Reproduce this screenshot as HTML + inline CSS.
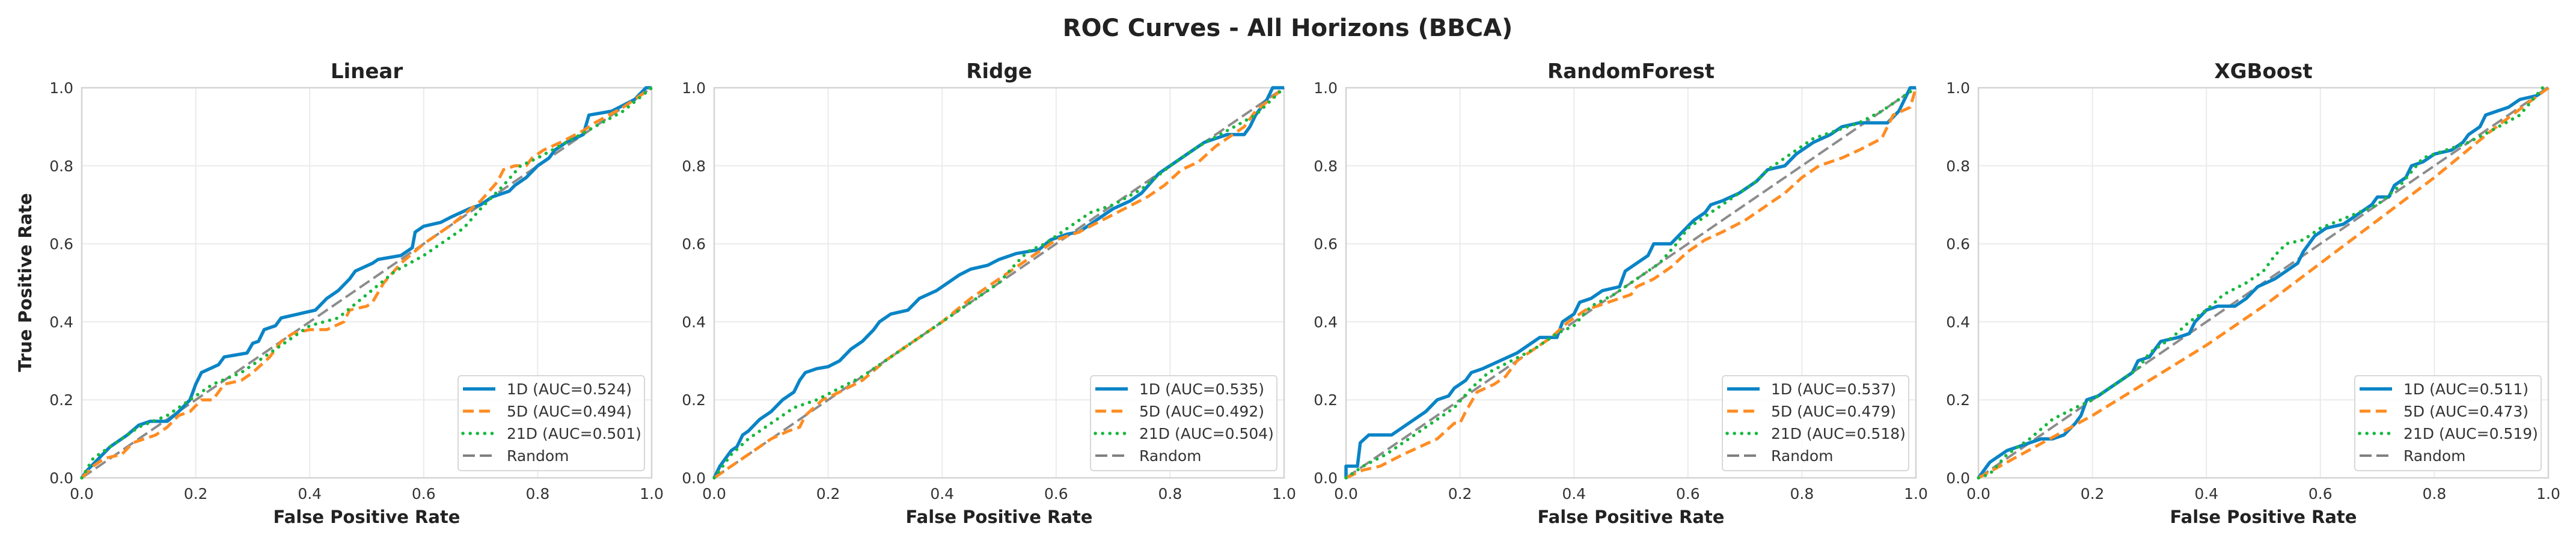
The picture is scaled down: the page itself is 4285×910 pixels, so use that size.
<!DOCTYPE html>
<html><head><meta charset="utf-8">
<style>
html,body{margin:0;padding:0;background:#fff;}
svg text{font-family:"DejaVu Sans","Liberation Sans",sans-serif;}
</style></head>
<body>
<svg id="fig" xmlns="http://www.w3.org/2000/svg" width="4285" height="905" viewBox="0 0 4285 905">
<rect width="4285" height="905" fill="#fff"/>
<text x="2142" y="60" text-anchor="middle" font-size="40" font-weight="bold" fill="#222">ROC Curves - All Horizons (BBCA)</text>
</svg>
<script>
// ---- data ----
const models = ["Linear","Ridge","RandomForest","XGBoost"];
const horizons = ["1D","5D","21D"];
const aucLinear = [0.524,0.494,0.501];
const aucRidge = [0.535,0.492,0.504];
const aucRF = [0.537,0.479,0.518];
const aucXGB = [0.511,0.473,0.519];
const tickValues = [0,0.2,0.4,0.6,0.8,1.0];
const tickLabels = ["0.0","0.2","0.4","0.6","0.8","1.0"];

const linear1D_fpr=[0,0.01,0.05,0.08,0.1,0.12,0.15,0.17,0.19,0.2,0.21,0.24,0.25,0.29,0.3,0.31,0.32,0.34,0.35,0.38,0.41,0.43,0.45,0.47,0.48,0.51,0.52,0.56,0.58,0.585,0.6,0.63,0.65,0.68,0.7,0.72,0.75,0.76,0.78,0.8,0.82,0.83,0.85,0.88,0.89,0.91,0.93,0.97,0.99,1];
const linear1D_tpr=[0,0.02,0.08,0.11,0.135,0.145,0.145,0.17,0.2,0.24,0.27,0.29,0.31,0.32,0.345,0.35,0.38,0.39,0.41,0.42,0.43,0.46,0.48,0.51,0.53,0.55,0.56,0.57,0.59,0.63,0.645,0.655,0.67,0.69,0.7,0.72,0.735,0.75,0.77,0.8,0.82,0.84,0.86,0.88,0.93,0.935,0.94,0.97,1,1];
const linear5D_fpr=[0,0.02,0.04,0.07,0.09,0.11,0.13,0.15,0.17,0.19,0.21,0.23,0.25,0.28,0.3,0.33,0.35,0.37,0.4,0.43,0.46,0.47,0.5,0.51,0.53,0.56,0.6,0.65,0.7,0.73,0.74,0.76,0.78,0.79,0.81,0.84,0.88,0.9,0.95,1];
const linear5D_tpr=[0,0.03,0.05,0.06,0.09,0.1,0.11,0.13,0.16,0.17,0.2,0.2,0.24,0.25,0.27,0.31,0.35,0.37,0.38,0.38,0.4,0.43,0.44,0.45,0.5,0.55,0.6,0.65,0.71,0.76,0.79,0.8,0.8,0.82,0.84,0.86,0.89,0.91,0.95,1];
const linear21D_fpr=[0,0.02,0.06,0.1,0.15,0.19,0.23,0.28,0.32,0.36,0.4,0.45,0.5,0.55,0.6,0.64,0.67,0.7,0.74,0.77,0.8,0.85,0.9,0.95,1];
const linear21D_tpr=[0,0.05,0.09,0.13,0.16,0.2,0.24,0.27,0.31,0.35,0.39,0.41,0.47,0.53,0.57,0.61,0.64,0.69,0.75,0.8,0.82,0.86,0.9,0.94,1];

const ridge1D_fpr=[0,0.01,0.02,0.03,0.04,0.05,0.06,0.08,0.1,0.12,0.14,0.15,0.16,0.18,0.2,0.22,0.24,0.26,0.28,0.29,0.31,0.34,0.36,0.39,0.41,0.43,0.45,0.48,0.5,0.53,0.57,0.59,0.62,0.64,0.66,0.68,0.7,0.73,0.75,0.78,0.8,0.83,0.86,0.88,0.9,0.93,0.94,0.95,0.97,0.98,1];
const ridge1D_tpr=[0,0.03,0.05,0.07,0.08,0.11,0.12,0.15,0.17,0.2,0.22,0.25,0.27,0.28,0.285,0.3,0.33,0.35,0.38,0.4,0.42,0.43,0.46,0.48,0.5,0.52,0.535,0.545,0.56,0.575,0.585,0.61,0.625,0.63,0.65,0.67,0.69,0.71,0.73,0.78,0.8,0.83,0.86,0.87,0.88,0.88,0.9,0.93,0.97,1,1];
const ridge5D_fpr=[0,0.03,0.07,0.1,0.13,0.15,0.16,0.19,0.22,0.26,0.3,0.33,0.37,0.4,0.45,0.5,0.54,0.57,0.6,0.64,0.68,0.72,0.76,0.79,0.82,0.85,0.88,0.91,0.93,0.95,1];
const ridge5D_tpr=[0,0.03,0.07,0.1,0.12,0.13,0.16,0.2,0.22,0.25,0.3,0.33,0.37,0.4,0.46,0.51,0.55,0.58,0.61,0.63,0.66,0.69,0.72,0.75,0.79,0.81,0.85,0.88,0.9,0.94,1];
const ridge21D_fpr=[0,0.03,0.06,0.1,0.14,0.18,0.22,0.26,0.3,0.34,0.38,0.42,0.47,0.5,0.53,0.55,0.58,0.62,0.66,0.7,0.75,0.8,0.85,0.9,0.95,1];
const ridge21D_tpr=[0,0.06,0.1,0.14,0.18,0.2,0.23,0.26,0.3,0.34,0.38,0.42,0.47,0.5,0.55,0.58,0.6,0.64,0.68,0.7,0.74,0.8,0.85,0.89,0.93,1];

const rf1D_fpr=[0,0,0.02,0.025,0.04,0.08,0.09,0.1,0.12,0.14,0.16,0.18,0.19,0.21,0.22,0.24,0.27,0.3,0.32,0.34,0.37,0.38,0.4,0.41,0.43,0.45,0.48,0.49,0.51,0.53,0.54,0.57,0.59,0.61,0.63,0.64,0.66,0.69,0.72,0.74,0.77,0.79,0.82,0.85,0.87,0.9,0.95,0.97,0.99,1];
const rf1D_tpr=[0,0.03,0.03,0.09,0.11,0.11,0.12,0.13,0.15,0.17,0.2,0.21,0.23,0.25,0.27,0.28,0.3,0.32,0.34,0.36,0.36,0.4,0.42,0.45,0.46,0.48,0.49,0.53,0.55,0.57,0.6,0.6,0.63,0.66,0.68,0.7,0.71,0.73,0.76,0.79,0.8,0.83,0.86,0.88,0.9,0.91,0.91,0.94,1,1];
const rf5D_fpr=[0,0.03,0.06,0.1,0.13,0.16,0.19,0.2,0.21,0.23,0.26,0.28,0.3,0.33,0.36,0.39,0.42,0.46,0.5,0.51,0.54,0.57,0.6,0.63,0.66,0.7,0.72,0.74,0.77,0.8,0.83,0.87,0.9,0.94,0.96,0.99,1];
const rf5D_tpr=[0,0.02,0.03,0.06,0.08,0.1,0.14,0.14,0.17,0.22,0.24,0.26,0.3,0.33,0.36,0.4,0.43,0.45,0.47,0.49,0.51,0.54,0.58,0.61,0.63,0.66,0.68,0.7,0.73,0.77,0.8,0.82,0.84,0.87,0.93,0.95,1];
const rf21D_fpr=[0,0.03,0.07,0.11,0.15,0.19,0.22,0.25,0.29,0.33,0.37,0.4,0.43,0.47,0.52,0.55,0.58,0.6,0.63,0.67,0.72,0.74,0.78,0.82,0.86,0.9,0.94,0.97,1];
const rf21D_tpr=[0,0.03,0.06,0.1,0.14,0.18,0.23,0.27,0.3,0.33,0.37,0.39,0.44,0.47,0.52,0.55,0.6,0.64,0.67,0.71,0.76,0.79,0.83,0.87,0.89,0.91,0.94,0.97,1];

const xgb1D_fpr=[0,0.01,0.02,0.04,0.05,0.07,0.09,0.11,0.13,0.15,0.17,0.18,0.19,0.21,0.23,0.25,0.27,0.28,0.3,0.31,0.32,0.35,0.37,0.38,0.4,0.42,0.45,0.47,0.49,0.52,0.54,0.56,0.57,0.59,0.61,0.64,0.66,0.69,0.7,0.72,0.73,0.75,0.76,0.78,0.8,0.83,0.85,0.86,0.88,0.89,0.91,0.93,0.95,0.98,1];
const xgb1D_tpr=[0,0.02,0.04,0.06,0.07,0.08,0.09,0.1,0.1,0.11,0.14,0.16,0.2,0.21,0.23,0.25,0.27,0.3,0.31,0.33,0.35,0.36,0.37,0.4,0.43,0.44,0.44,0.46,0.49,0.51,0.53,0.55,0.58,0.62,0.64,0.65,0.67,0.7,0.72,0.72,0.75,0.77,0.8,0.81,0.83,0.84,0.86,0.88,0.9,0.93,0.94,0.95,0.97,0.98,1];
const xgb5D_fpr=[0,0.1,0.2,0.3,0.4,0.5,0.6,0.7,0.8,0.9,1];
const xgb5D_tpr=[0,0.08,0.16,0.25,0.34,0.44,0.55,0.66,0.77,0.89,1];
const xgb21D_fpr=[0,0.02,0.05,0.09,0.13,0.17,0.2,0.25,0.28,0.3,0.34,0.37,0.4,0.43,0.47,0.5,0.52,0.54,0.57,0.6,0.65,0.7,0.74,0.78,0.82,0.86,0.9,0.95,0.99,1];
const xgb21D_tpr=[0,0.01,0.06,0.1,0.15,0.18,0.2,0.25,0.28,0.32,0.36,0.4,0.43,0.47,0.5,0.53,0.57,0.6,0.61,0.64,0.67,0.7,0.75,0.82,0.84,0.86,0.89,0.93,1,1];

const randomLine = [0,1];

// ---- drawing ----
const NS="http://www.w3.org/2000/svg";
const svg=document.getElementById('fig');
const axLefts=[136,1188,2239,3291];
const AXW=948, AXT=146, AXB=795;
const colors={"1D":"#0a84c6","5D":"#ff8c22","21D":"#17b83e"};
const panelCurves=[
 [[linear1D_fpr,linear1D_tpr],[linear5D_fpr,linear5D_tpr],[linear21D_fpr,linear21D_tpr]],
 [[ridge1D_fpr,ridge1D_tpr],[ridge5D_fpr,ridge5D_tpr],[ridge21D_fpr,ridge21D_tpr]],
 [[rf1D_fpr,rf1D_tpr],[rf5D_fpr,rf5D_tpr],[rf21D_fpr,rf21D_tpr]],
 [[xgb1D_fpr,xgb1D_tpr],[xgb5D_fpr,xgb5D_tpr],[xgb21D_fpr,xgb21D_tpr]]
];
const panelAucs=[aucLinear,aucRidge,aucRF,aucXGB];
function mk(tag,attrs,parent){const e=document.createElementNS(NS,tag);for(const k in attrs)e.setAttribute(k,attrs[k]);(parent||svg).appendChild(e);return e;}
const styles=[
 {w:5.5,dash:null,cap:"butt"},
 {w:5,dash:"18 9",cap:"butt"},
 {w:5.5,dash:"0.1 12",cap:"round"}
];
models.forEach((m,pi)=>{
  const L=axLefts[pi];
  const sx=v=>L+v*AXW;
  const sy=v=>AXB-v*(AXB-AXT);
  const g=mk('g',{});
  
  
  const t=mk('text',{x:L+AXW/2,y:130,'text-anchor':'middle','font-size':34,'font-weight':'bold',fill:'#222'},g);
  t.textContent=m;
  
  
  tickValues.forEach((v,i)=>{
    const gx=mk('line',{x1:sx(v),x2:sx(v),y1:AXT,y2:AXB,stroke:'#ebebeb','stroke-width':2},g);
    
    
    const gy=mk('line',{x1:L,x2:L+AXW,y1:sy(v),y2:sy(v),stroke:'#ebebeb','stroke-width':2},g);
    
    
    const xl=mk('text',{x:sx(v),y:AXB+35,'text-anchor':'middle','font-size':25,fill:'#333'},g);
    xl.textContent=tickLabels[i];
    
    
    const yl=mk('text',{x:L-14,y:sy(v)+9,'text-anchor':'end','font-size':25,fill:'#333'},g);
    yl.textContent=tickLabels[i];
    
    
  });
  const fr=mk('rect',{x:L,y:AXT,width:AXW,height:AXB-AXT,fill:'none',stroke:'#d4d4d4','stroke-width':2.5},g);
  
  
  // random
  const rl=mk('line',{x1:sx(randomLine[0]),y1:sy(randomLine[0]),x2:sx(randomLine[1]),y2:sy(randomLine[1]),stroke:'#808080','stroke-width':4,'stroke-dasharray':'20 8',opacity:0.9},g);
  
  
  panelCurves[pi].forEach((c,si)=>{
    const [fx,ty]=c;
    const pts=fx.map((x,i)=>sx(x).toFixed(1)+','+sy(ty[i]).toFixed(1)).join(' ');
    const st=styles[si];
    const a={points:pts,fill:'none',stroke:colors[horizons[si]],'stroke-width':st.w,'stroke-linecap':st.cap,'stroke-linejoin':'round'};
    if(st.dash)a['stroke-dasharray']=st.dash;
    const pl=mk('polyline',a,g);
    
    
  });
  // legend
  const lx=L+AXW-322, ly=AXB-170;
  const lg=mk('g',{},g);
  
  
  mk('rect',{x:lx,y:ly,width:310,height:158,rx:5,fill:'#fff','fill-opacity':0.85,stroke:'#d8d8d8','stroke-width':2},lg);
  const labels=horizons.map((h,i)=>h+' (AUC='+panelAucs[pi][i].toFixed(3)+')').concat(['Random']);
  labels.forEach((lab,i)=>{
    const yy=ly+22+i*37;
    const a=i<3?{stroke:colors[horizons[i]],'stroke-width':styles[i].w,'stroke-linecap':styles[i].cap}:{stroke:'#808080','stroke-width':4,'stroke-dasharray':'20 8'};
    if(i<3&&styles[i].dash)a['stroke-dasharray']=styles[i].dash;
    a.x1=lx+8;a.x2=lx+62;a.y1=yy;a.y2=yy;
    const ln=mk('line',a,lg);
    
    
    const tx=mk('text',{x:lx+81,y:yy+9,'font-size':25,fill:'#333'},lg);
    tx.textContent=lab;
    
    
  });
  const xt=mk('text',{x:L+AXW/2,y:870,'text-anchor':'middle','font-size':29,'font-weight':'bold',fill:'#222'},g);
  xt.textContent='False Positive Rate';
  
  
});
const yt=mk('text',{x:0,y:0,'text-anchor':'middle','font-size':29,'font-weight':'bold',fill:'#222',transform:'translate(52,470) rotate(-90)'});
yt.textContent='True Positive Rate';


</script>
</body></html>
